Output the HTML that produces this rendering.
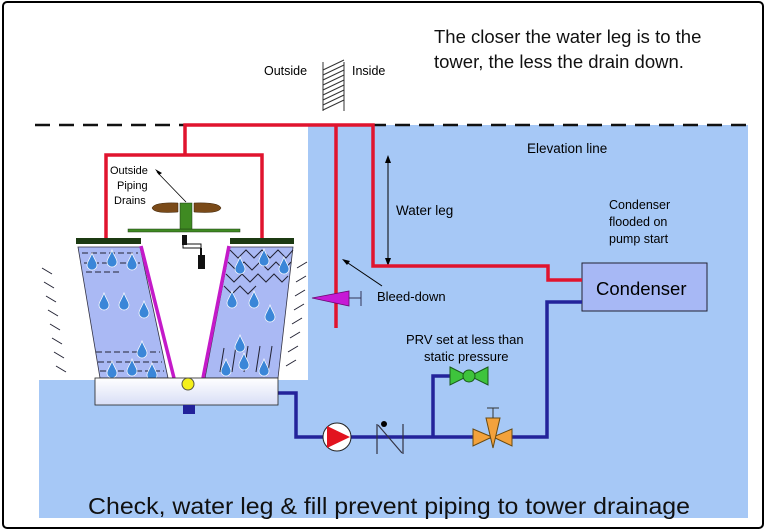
<!DOCTYPE html>
<html><head><meta charset="utf-8"><style>
body{margin:0;background:#fff;}
svg{display:block;font-family:"Liberation Sans",sans-serif;}
</style></head><body>
<svg width="768" height="532" viewBox="0 0 768 532">
<rect x="0" y="0" width="768" height="532" fill="#fff"/>
<rect x="3" y="2" width="760" height="526" rx="4" fill="#fff" stroke="#000" stroke-width="2"/>
<polygon points="308,125 748,125 748,518 39,518 39,380 308,380" fill="#a6c8f6"/>
<line x1="35" y1="125" x2="748" y2="125" stroke="#111" stroke-width="2.5" stroke-dasharray="15,9"/>
<text x="434" y="43" font-size="18.5" fill="#111">The closer the water leg is to the</text>
<text x="434" y="68" font-size="18.5" fill="#111">tower, the less the drain down.</text>
<text x="264" y="75" font-size="12.5">Outside</text>
<text x="352" y="75" font-size="12.5">Inside</text>
<g stroke="#333" stroke-width="1">
<line x1="323" y1="62" x2="323" y2="111"/><line x1="344" y1="62" x2="344" y2="111"/>
<path d="M323,70 L344,60 M323,75 L344,65 M323,80 L344,70 M323,85 L344,75 M323,90 L344,80 M323,95 L344,85 M323,100 L344,90 M323,105 L344,95 M323,110 L344,100"/>
</g>
<text x="527" y="153" font-size="13.5">Elevation line</text>
<text x="396" y="215" font-size="13.5">Water leg</text>
<text x="609" y="209" font-size="12.5">Condenser</text>
<text x="609" y="226" font-size="12.5">flooded on</text>
<text x="609" y="243" font-size="12.5">pump start</text>
<line x1="388" y1="158" x2="388" y2="263" stroke="#000"/>
<path d="M385,163 L388,155 L391,163Z M385,258 L388,266 L391,258Z"/>
<rect x="582" y="263" width="125" height="48" fill="#a7b8f5" stroke="#223" stroke-width="1"/>
<text x="596" y="295" font-size="18.5">Condenser</text>
<g fill="none" stroke="#e0142e" stroke-width="3.5">
<path d="M185,155 V125 H373 V266 H548 V280 H582"/>
<path d="M106,242 V155 H262 V242"/>
<path d="M336,125 V328"/>
</g>
<polygon points="312,298 349,291 349,306" fill="#c61ad6" stroke="#6a0a70" stroke-width="0.8"/>
<line x1="361" y1="291" x2="361" y2="306" stroke="#335" /><line x1="349" y1="298" x2="361" y2="298" stroke="#335"/>
<line x1="382" y1="286" x2="345" y2="261" stroke="#000"/><path d="M342,259 L350,261 L347,265Z"/>
<text x="377" y="301" font-size="13">Bleed-down</text>
<text x="406" y="344" font-size="13">PRV set at less than</text>
<text x="424" y="361" font-size="13">static pressure</text>
<g fill="none" stroke="#23239a" stroke-width="3.5">
<path d="M582,302 H547 V437 H296 V393 H278"/>
<path d="M433,437 V376 H450"/>
</g>
<circle cx="337" cy="437" r="14" fill="#fff" stroke="#222"/>
<polygon points="327,426 350,437 327,448" fill="#e2131f"/>
<g stroke="#334" stroke-width="1.2"><line x1="377" y1="424" x2="377" y2="454"/><line x1="403" y1="424" x2="403" y2="454"/><line x1="378" y1="425" x2="402" y2="453"/></g>
<circle cx="384" cy="424" r="3" fill="#000"/>
<polygon points="450,367 468,376 450,385" fill="#3ec43c" stroke="#1a5a1a"/>
<polygon points="488,367 470,376 488,385" fill="#3ec43c" stroke="#1a5a1a"/>
<circle cx="469" cy="376" r="6" fill="#3ec43c" stroke="#1a5a1a"/>
<polygon points="473,429 492,437 473,446" fill="#f3a23c" stroke="#6a4a10"/>
<polygon points="512,429 493,437 512,446" fill="#f3a23c" stroke="#6a4a10"/>
<polygon points="486,418 500,418 493,448" fill="#f3a23c" stroke="#6a4a10"/>
<line x1="493" y1="408" x2="493" y2="418" stroke="#333"/><line x1="487" y1="408" x2="499" y2="408" stroke="#333"/>
<polygon points="78,247 140,247 168,378 100,378" fill="#aab9f4" stroke="#334" stroke-width="0.8"/>
<polygon points="230,247 293,247 278,378 205,378" fill="#aab9f4" stroke="#334" stroke-width="0.8"/>
<rect x="76" y="238" width="65" height="6" fill="#1c3a12"/>
<rect x="230" y="238" width="64" height="6" fill="#1c3a12"/>
<line x1="141" y1="246" x2="174" y2="378" stroke="#c41ac9" stroke-width="3.5"/>
<line x1="229" y1="246" x2="203" y2="378" stroke="#c41ac9" stroke-width="3.5"/>
<g stroke="#223" stroke-width="1" stroke-dasharray="6,3">
<line x1="82" y1="253" x2="138" y2="253"/><line x1="84" y1="263" x2="140" y2="263"/><line x1="86" y1="272" x2="120" y2="272"/>
<line x1="96" y1="352" x2="160" y2="352"/><line x1="98" y1="362" x2="162" y2="362"/><line x1="100" y1="371" x2="164" y2="371"/>
</g>
<g stroke="#223" stroke-width="1" fill="none">
<path d="M230,250 l8,8 l8,-8 l8,8 l8,-8 l8,8 l8,-8 l8,8 l7,-8 M228,262 l8,8 l8,-8 l8,8 l8,-8 l8,8 l8,-8 l8,8 l7,-8 M226,274 l8,8 l8,-8 l8,8 l8,-8 l8,8 l8,-8 l8,8 l6,-6 M224,286 l8,8 l8,-8 l8,8 l8,-8"/>
<path d="M220,372 l4,-24 M232,372 l4,-26 M244,372 l4,-26 M256,372 l4,-26 M268,372 l4,-26"/>
<path d="M42,268 l10,6 M44,282 l10,6 M46,296 l10,6 M48,310 l10,6 M50,324 l10,6 M52,338 l10,6 M54,352 l10,6 M56,366 l10,6"/>
<path d="M297,268 l10,-6 M296,282 l10,-6 M295,296 l10,-6 M294,310 l10,-6 M292,324 l10,-6 M290,338 l10,-6 M288,352 l10,-6 M286,366 l10,-6"/>
</g>
<g fill="#3a86d8" stroke="#fff" stroke-width="0.7">
<path id="d" d="M0,-9 C2,-3 5,0 5,3 A5,5 0 0 1 -5,3 C-5,0 -2,-3 0,-9Z" transform="translate(92,262)"/>
<use href="#d" x="20" y="-3"/><use href="#d" x="40" y="0"/>
<use href="#d" x="12" y="40"/><use href="#d" x="32" y="40"/><use href="#d" x="52" y="48"/>
<use href="#d" x="50" y="88"/><use href="#d" x="20" y="108"/><use href="#d" x="40" y="106"/><use href="#d" x="60" y="110"/>
<use href="#d" x="148" y="4"/><use href="#d" x="172" y="-4"/><use href="#d" x="192" y="4"/>
<use href="#d" x="140" y="38"/><use href="#d" x="162" y="38"/><use href="#d" x="178" y="52"/>
<use href="#d" x="148" y="82"/><use href="#d" x="134" y="106"/><use href="#d" x="152" y="100"/><use href="#d" x="172" y="106"/>
</g>
<rect x="128" y="229" width="112" height="3" fill="#3f8a22" stroke="#1c3a12" stroke-width="0.5"/>
<rect x="180" y="203" width="12" height="26" fill="#3f8a22" stroke="#1c3a12" stroke-width="0.5"/>
<path d="M152,208 Q154,202 178,203 L178,212 Q154,214 152,208Z" fill="#7a4a18" stroke="#3a2208" stroke-width="0.5"/>
<path d="M221,208 Q219,202 194,203 L194,212 Q219,214 221,208Z" fill="#7a4a18" stroke="#3a2208" stroke-width="0.5"/>
<rect x="182" y="235" width="5" height="10" fill="#111"/><rect x="183" y="244" width="18" height="4" fill="none" stroke="#111"/><rect x="198" y="255" width="7" height="14" fill="#111"/><line x1="201" y1="248" x2="201" y2="255" stroke="#111" stroke-width="2"/>
<text x="110" y="174" font-size="11">Outside</text>
<text x="117" y="189" font-size="11">Piping</text>
<text x="114" y="204" font-size="11">Drains</text>
<line x1="186" y1="202" x2="157" y2="172" stroke="#000" stroke-width="0.8"/><path d="M155,169 L162,173 L159,175Z"/>
<defs><linearGradient id="g" x1="0" y1="0" x2="0" y2="1"><stop offset="0" stop-color="#fff"/><stop offset="1" stop-color="#d8def6"/></linearGradient></defs>
<rect x="95" y="378" width="183" height="27" fill="url(#g)" stroke="#222" stroke-width="0.8"/>
<circle cx="188" cy="384" r="6" fill="#f5f01a" stroke="#554"/>
<rect x="183" y="405" width="12" height="9" fill="#22229a"/>
<text x="88" y="514" font-size="23" textLength="602" lengthAdjust="spacingAndGlyphs" fill="#111">Check, water leg &amp; fill prevent piping to tower drainage</text>
</svg>
</body></html>
